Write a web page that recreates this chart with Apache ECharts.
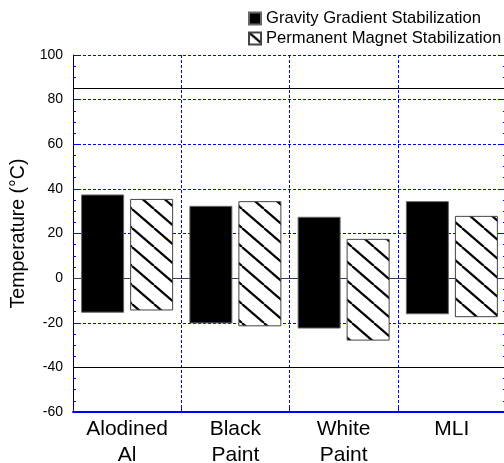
<!DOCTYPE html>
<html>
<head>
<meta charset="utf-8">
<script src="https://cdn.jsdelivr.net/npm/echarts@6/dist/echarts.min.js"></script>
<style>
  html, body { margin: 0; padding: 0; background: #fff; }
  #chart { width: 504px; height: 463px; }
</style>
</head>
<body>
<div id="chart"></div>
<script>
const categories = ['Alodined\nAl', 'Black\nPaint', 'White\nPaint', 'MLI']
const gravityLow = [-15.5, -20.3, -22.6, -16.2]
const gravityHigh = [37.5, 32.4, 27.5, 34.5]
const magnetLow = [-14.5, -21.6, -28.0, -17.5]
const magnetHigh = [35.5, 34.5, 17.6, 27.9]
const refLines = [85, 0, -40]

const FONT = 'Liberation Sans, Arial, sans-serif'
const BLUE = '#0000ff'

// diagonal "\" hatch tile
const makeHatch = () => {
  const w = 22, h = 19
  const c = document.createElement('canvas')
  c.width = w
  c.height = h
  const ctx = c.getContext('2d')
  ctx.fillStyle = '#fff'
  ctx.fillRect(0, 0, w, h)
  ctx.strokeStyle = '#000'
  ctx.lineWidth = 2.2
  for (const dx of [-w, 0, w]) {
    ctx.beginPath()
    ctx.moveTo(dx, 0)
    ctx.lineTo(dx + w, h)
    ctx.stroke()
  }
  return c
}

const span = (lo, hi) => hi.map((v, i) => +(v - lo[i]).toFixed(2))

const chart = echarts.init(document.getElementById('chart'))

const gridDots = { color: BLUE, type: [3, 2], width: 1 }

const yCommon = {
  type: 'value',
  min: -60,
  max: 100,
  interval: 20,
  axisTick: { show: true, inside: true, length: 8, lineStyle: { color: BLUE } },
  minorTick: { show: true, splitNumber: 4, length: 3, lineStyle: { color: BLUE } }
}

chart.setOption({
  animation: false,
  textStyle: { fontFamily: FONT },
  legend: {
    data: ['Gravity Gradient Stabilization', 'Permanent Magnet Stabilization'],
    orient: 'vertical',
    left: 243,
    top: 5,
    itemWidth: 12,
    itemHeight: 12,
    itemGap: 3,
    icon: 'rect',
    textStyle: { fontSize: 16.6, color: '#000', fontFamily: FONT }
  },
  grid: { left: 73, right: -2, top: 55, bottom: 51, outerBoundsMode: 'none' },
  xAxis: {
    type: 'category',
    data: categories,
    axisLine: { onZero: false, lineStyle: { color: BLUE, width: 2 } },
    axisTick: { show: true, inside: true, length: 5, lineStyle: { color: BLUE } },
    axisLabel: { fontSize: 21, lineHeight: 26, color: '#000', margin: 4, fontFamily: FONT },
    splitLine: { show: true, lineStyle: gridDots }
  },
  yAxis: [
    Object.assign({}, yCommon, {
      position: 'left',
      name: 'Temperature (°C)',
      nameLocation: 'middle',
      nameGap: 34,
      nameTextStyle: { fontSize: 19.5, color: '#000', fontFamily: FONT },
      axisLine: { show: true, lineStyle: { color: '#000033', width: 1 } },
      axisLabel: { fontSize: 14, color: '#000', margin: 10, fontFamily: FONT },
      splitLine: { show: true, lineStyle: gridDots }
    }),
    Object.assign({}, yCommon, {
      position: 'right',
      axisLine: { show: true, lineStyle: { color: BLUE, width: 1 } },
      axisLabel: { show: false },
      splitLine: { show: false }
    })
  ],
  series: [
    {
      name: 'gBase',
      type: 'bar',
      stack: 'g',
      stackStrategy: 'all',
      barWidth: 43,
      barGap: '14%',
      itemStyle: { color: 'transparent' },
      emphasis: { disabled: true },
      data: gravityLow,
      markLine: {
        silent: true,
        symbol: 'none',
        z: 1,
        label: { show: false },
        data: refLines.map(v => ({
          yAxis: v,
          lineStyle: { color: v === 0 ? '#3a3a55' : '#000', width: 1, type: 'solid' }
        }))
      }
    },
    {
      name: 'Gravity Gradient Stabilization',
      type: 'bar',
      stack: 'g',
      stackStrategy: 'all',
      barWidth: 43,
      barGap: '14%',
      itemStyle: { color: '#000', borderColor: '#666', borderWidth: 1 },
      data: span(gravityLow, gravityHigh)
    },
    {
      name: 'mBase',
      type: 'bar',
      stack: 'm',
      stackStrategy: 'all',
      barWidth: 43,
      barGap: '14%',
      itemStyle: { color: 'transparent' },
      emphasis: { disabled: true },
      data: magnetLow
    },
    {
      name: 'Permanent Magnet Stabilization',
      type: 'bar',
      stack: 'm',
      stackStrategy: 'all',
      barWidth: 43,
      barGap: '14%',
      itemStyle: {
        color: { image: makeHatch(), repeat: 'repeat' },
        borderColor: '#444',
        borderWidth: 1
      },
      data: span(magnetLow, magnetHigh)
    }
  ]
})
</script>
</body>
</html>
